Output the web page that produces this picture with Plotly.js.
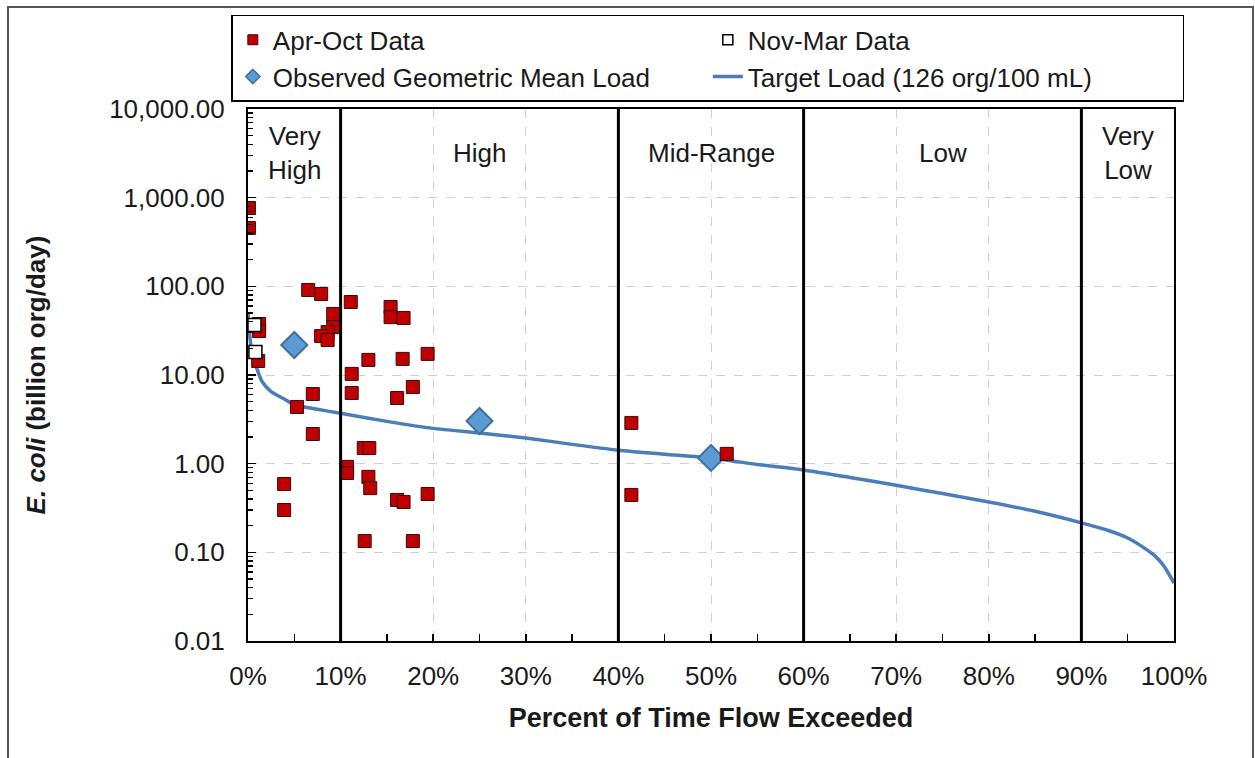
<!DOCTYPE html>
<html>
<head>
<meta charset="utf-8">
<script src="https://cdn.plot.ly/plotly-3.0.1.min.js"></script>
<style>
  html, body { margin: 0; padding: 0; background: #fff; overflow: hidden; }
  #chart { width: 1255px; height: 758px; }
  #frame { position: absolute; left: 7px; top: 6px; width: 1243px; height: 800px;
           border: 2px solid #555; border-bottom: none; pointer-events: none; }
</style>
</head>
<body>
<div id="chart"></div>
<div id="frame"></div>
<script>
// Apr-Oct samples (percent of time flow exceeded, load in billion org/day)
const aprOctX = [0.1, 0.1, 1.2, 1.2, 1.1, 3.9, 3.9, 5.3, 7.0, 7.0, 6.5, 7.9, 9.2, 9.2, 8.6, 7.9, 8.6,
                 11.1, 15.4, 15.4, 16.8, 13.0, 16.7, 19.4, 11.2, 11.2, 17.8, 16.1,
                 12.5, 13.1, 10.7, 10.7, 13.0, 13.2, 16.1, 16.8, 19.4, 12.6, 17.8,
                 41.4, 41.4, 51.7];
const aprOctY = [764, 455, 37.6, 31.3, 14.4, 0.59, 0.30, 4.36, 6.1, 2.16, 91, 82, 48.8, 34.7, 30.5, 27.5, 24.8,
                 66.5, 58.5, 45, 44, 14.8, 15.2, 17.3, 10.3, 6.27, 7.33, 5.5,
                 1.50, 1.50, 0.92, 0.785, 0.71, 0.53, 0.39, 0.37, 0.455, 0.134, 0.134,
                 2.88, 0.444, 1.29];

// Nov-Mar samples
const novMarX = [0.7, 0.8];
const novMarY = [36.6, 18.2];

// Observed geometric mean load per flow regime
const geoX = [5, 25, 50];
const geoY = [21.8, 3.03, 1.16];

// Target load curve (126 org/100 mL)
const targetX = [0, 0.2, 0.5, 1, 1.5, 2.5, 4, 5, 7.5, 10, 15, 20, 25, 30, 35, 40, 45, 50, 55, 60,
                 65, 70, 75, 80, 85, 90, 93, 95, 97, 98, 99, 100];
const targetY = [51, 27, 16, 11.5, 8.5, 6.5, 5.3, 4.6, 4.1, 3.7, 3.0, 2.5, 2.22, 1.95, 1.65, 1.42, 1.28, 1.16, 0.98, 0.85,
                 0.70, 0.57, 0.46, 0.37, 0.29, 0.215, 0.175, 0.145, 0.108, 0.09, 0.068, 0.045];

// Flow regime boundaries and labels
const regimeBounds = [10, 40, 60, 90];
const regimeLabelX = [5, 25, 50, 75, 95];
const regimeLabels = ["Very<br>High", "High", "Mid-Range", "Low", "Very<br>Low"];

const xTickVals = [0, 10, 20, 30, 40, 50, 60, 70, 80, 90, 100];
const xTickText = ["0%", "10%", "20%", "30%", "40%", "50%", "60%", "70%", "80%", "90%", "100%"];
const yTickVals = [0.01, 0.1, 1, 10, 100, 1000, 10000];

const FONT = "Liberation Sans, Arial, sans-serif";
const FS = 26;
const TXT = "#1a1a1a";

const traces = [
  { x: targetX, y: targetY, type: "scatter", mode: "lines", name: "Target Load (126 org/100 mL)",
    line: { color: "#4A7EBB", width: 3.5, shape: "spline", smoothing: 0.6 }, legendrank: 4 },
  { x: geoX, y: geoY, type: "scatter", mode: "markers", name: "Observed Geometric Mean Load",
    legendgroup: "geo", showlegend: false,
    marker: { symbol: "diamond", size: 20, color: "#5B9BD5", line: { color: "#41719C", width: 2 } } },
  { x: aprOctX, y: aprOctY, type: "scatter", mode: "markers", name: "Apr-Oct Data",
    legendgroup: "apr", showlegend: false,
    marker: { symbol: "square", size: 13, color: "#C00000", line: { color: "#3A0A0A", width: 1 } } },
  { x: novMarX, y: novMarY, type: "scatter", mode: "markers", name: "Nov-Mar Data",
    legendgroup: "nov", showlegend: false,
    marker: { symbol: "square", size: 13, color: "#FFFFFF", line: { color: "#000000", width: 1.5 } } },
  // legend entries (smaller symbols, as in the original legend)
  { x: [null], y: [null], type: "scatter", mode: "markers", name: "Apr-Oct Data", legendgroup: "apr", legendrank: 1,
    marker: { symbol: "square", size: 10, color: "#C00000", line: { color: "#3A0A0A", width: 1 } } },
  { x: [null], y: [null], type: "scatter", mode: "markers", name: "Nov-Mar Data", legendgroup: "nov", legendrank: 2,
    marker: { symbol: "square", size: 10, color: "#FFFFFF", line: { color: "#000000", width: 1.5 } } },
  { x: [null], y: [null], type: "scatter", mode: "markers", name: "Observed Geometric Mean Load", legendgroup: "geo", legendrank: 3,
    marker: { symbol: "diamond", size: 11, color: "#5B9BD5", line: { color: "#41719C", width: 1.5 } } }
];

const shapes = regimeBounds.map(b => ({
  type: "line", xref: "x", yref: "paper", x0: b, x1: b, y0: 0, y1: 1,
  line: { color: "#000", width: 3 }, layer: "above"
}));

const annotations = regimeLabels.map((t, i) => ({
  x: regimeLabelX[i], xref: "x", y: 0.917, yref: "paper", text: t, showarrow: false,
  font: { family: FONT, size: FS, color: TXT }, align: "center", yanchor: "middle"
}));

const layout = {
  width: 1255, height: 758,
  margin: { l: 248, r: 81, t: 109, b: 117 },
  paper_bgcolor: "#fff", plot_bgcolor: "#fff",
  font: { family: FONT, size: FS, color: TXT },
  showlegend: true,
  legend: {
    orientation: "h", x: -0.018, xanchor: "left", y: 1.177, yanchor: "top",
    bordercolor: "#000", borderwidth: 1.5, bgcolor: "#fff",
    font: { family: FONT, size: FS, color: TXT }, entrywidth: 430, traceorder: "normal"
  },
  xaxis: {
    range: [0, 100], tickvals: xTickVals, ticktext: xTickText,
    ticks: "inside", ticklen: 7, tickcolor: "#000", tickwidth: 1.5,
    minor: { ticks: "inside", dtick: 5, tick0: 0, ticklen: 7, tickcolor: "#000", tickwidth: 1.5, showgrid: false },
    showline: true, mirror: true, linecolor: "#000", linewidth: 2,
    showgrid: true, gridcolor: "#D0D0D0", griddash: "dash", gridwidth: 1,
    zeroline: false, ticklabelstandoff: 11,
    title: { text: "<b>Percent of Time Flow Exceeded</b>", font: { family: FONT, size: 27, color: TXT }, standoff: 18 }
  },
  yaxis: {
    type: "log", range: [-2, 4], tickvals: yTickVals, tickformat: ",.2f",
    ticks: "inside", ticklen: 8, tickcolor: "#000", tickwidth: 1.5,
    minor: { ticks: "inside", dtick: "D1", ticklen: 5, tickcolor: "#000", tickwidth: 1.5, showgrid: false },
    showline: true, mirror: true, linecolor: "#000", linewidth: 2,
    showgrid: true, gridcolor: "#D0D0D0", griddash: "dash", gridwidth: 1,
    zeroline: false, ticklabelstandoff: 16,
    title: { text: "<b><i>E. coli</i> (billion org/day)</b>", font: { family: FONT, size: FS, color: TXT }, standoff: 56 }
  },
  shapes: shapes,
  annotations: annotations
};

Plotly.newPlot("chart", traces, layout, { displayModeBar: false, staticPlot: true });
</script>
</body>
</html>
